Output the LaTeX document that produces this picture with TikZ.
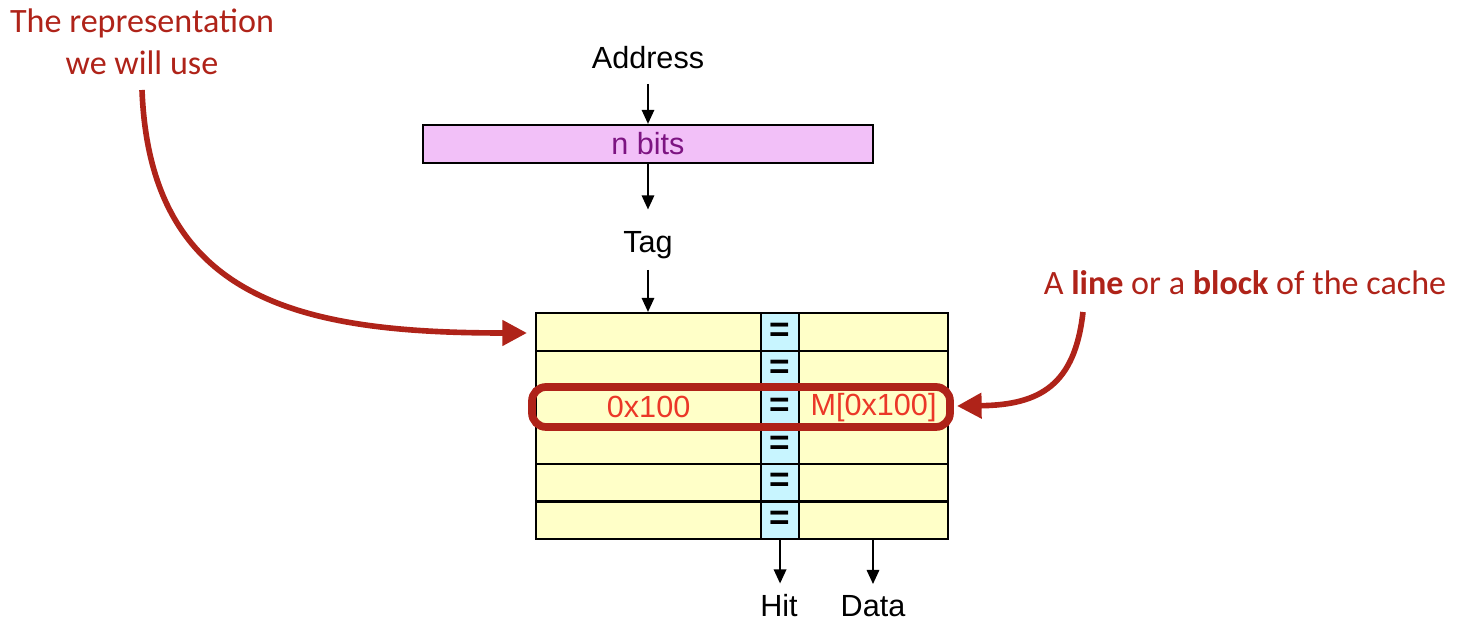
\documentclass[tikz,border=0pt]{standalone}
\usepackage{fontspec}
\setmainfont{Liberation Sans}
\newfontfamily\notefont{Carlito}
\usetikzlibrary{positioning, arrows.meta}
\definecolor{NoteRed}{RGB}{175,35,25}
\definecolor{ValRed}{RGB}{235,55,40}
\definecolor{BitsPink}{RGB}{242,192,248}
\definecolor{BitsPurple}{RGB}{125,20,130}
\definecolor{CellYellow}{RGB}{255,255,200}
\definecolor{CellCyan}{RGB}{200,245,255}

\begin{document}
\begin{tikzpicture}[x=0.01cm, y=-0.01cm,
      lbl/.style={font=\fontsize{8.7}{10}\selectfont, inner sep=0pt},
      note/.style={font=\notefont\fontsize{9.7}{12}\selectfont, text=NoteRed,
                   align=center, inner sep=0pt},
      cell/.style={draw=black, line width=0.6pt, minimum height=0.377cm,
                   inner sep=0pt, anchor=north west,
                   font=\fontsize{10}{10}\selectfont\bfseries},
      arr/.style={-{Triangle[length=4pt, width=3.5pt]}, line width=0.6pt},
      redarr/.style={-{Triangle[length=7pt, width=7pt]}, draw=NoteRed, line width=1.6pt}
    ]
    \useasboundingbox (0,0) rectangle (1468,628);

    % address path
    \node[lbl] (addr) at (648,58) {Address};
    \node[draw=black, line width=0.6pt, fill=BitsPink, minimum width=4.5cm,
          minimum height=0.38cm, inner sep=0pt, text=BitsPurple,
          font=\fontsize{8.7}{10}\selectfont] (bits) at (648,144) {n bits};
    \node[lbl] (tag) at (648,245) {Tag};
    \coordinate (top) at (648,312);

    \draw[arr, shorten <=4pt] (addr.south) -- (bits.north);
    \draw[arr, shorten >=6pt] (bits.south) -- (tag.north);
    \draw[arr, shorten <=3pt] (tag.south) -- (top);

    % cache rows
    \foreach \r in {0,...,5}{
      \node[cell, fill=CellYellow, minimum width=2.25cm] (tg\r) at (535,312+37.7*\r) {};
      \node[cell, fill=CellCyan, minimum width=0.38cm] (eq\r) at (760,312+37.7*\r) {=};
      \node[cell, fill=CellYellow, minimum width=1.49cm] (dt\r) at (798,312+37.7*\r) {};
    }
    \node[font=\fontsize{8.7}{10}\selectfont, text=ValRed] at (tg2) {0x100};
    \node[font=\fontsize{8.7}{10}\selectfont, text=ValRed] at (dt2) {M[0x100]};

    % highlighted line
    \draw[NoteRed, line width=2.2pt, rounded corners=4pt] (532,387) rectangle (950,427);

    % outputs
    \node[lbl] (hit)  at (779,606) {Hit};
    \node[lbl] (data) at (873,606) {Data};
    \draw[arr, shorten >=3pt] (eq5.south) -- (eq5.south |- hit.north);
    \draw[arr, shorten >=3pt] (dt5.south -| data) -- (data.north);

    % notes
    \node[note] (rep) at (142,42) {The representation\\we will use};
    \node[note] (line) at (1245,283) {A \textbf{line} or a \textbf{block} of the cache};
    \draw[redarr] (142,90) .. controls (150,300) and (300,333) .. (527,333);
    \draw[redarr] (1083,312) .. controls (1075,385) and (1040,405) .. (957,406);
  \end{tikzpicture}
\end{document}
